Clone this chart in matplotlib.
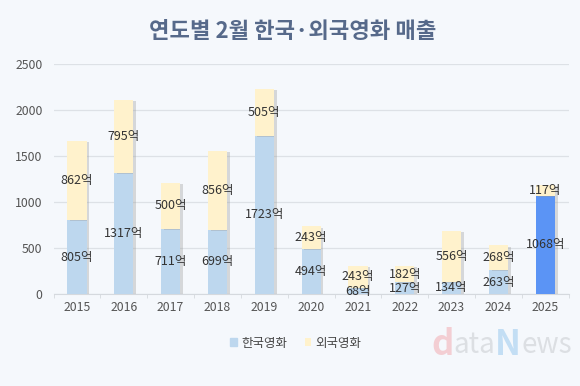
import numpy as np
import matplotlib.pyplot as plt
import matplotlib.patheffects as pe

plt.rcParams['font.family'] = ['Noto Sans CJK KR', 'DejaVu Sans']

# 데이터 (단위: 억원)
years = ["2015", "2016", "2017", "2018", "2019", "2020",
         "2021", "2022", "2023", "2024", "2025"]
korean = [805, 1317, 711, 699, 1723, 494, 68, 127, 134, 263, 1068]
foreign = [862, 795, 500, 856, 505, 243, 243, 182, 556, 268, 117]

bg = "#f5f8fc"
kor_color = "#bdd7ee"
kor_last = "#5b94f5"
for_color = "#fff2cc"

fig = plt.figure(figsize=(5.8, 3.86), dpi=100, facecolor=bg)
ax = fig.add_axes([0.0924, 0.238, 0.888, 0.596])
ax.set_facecolor(bg)

x = np.arange(len(years))
w = 0.41
shadow = [pe.SimplePatchShadow(offset=(2, -1), shadow_rgbFace="#9a9a9a", alpha=0.35), pe.Normal()]

kcolors = [kor_color] * (len(years) - 1) + [kor_last]
b1 = ax.bar(x, korean, width=w, color=kcolors, label="한국영화", zorder=3)
b2 = ax.bar(x, foreign, width=w, bottom=korean, color=for_color, label="외국영화", zorder=3)
for p in list(b1) + list(b2):
    p.set_path_effects(shadow)

for i in range(len(years)):
    ax.text(x[i], korean[i] / 2, f"{korean[i]}억", ha="center", va="center",
            fontsize=9, color="#333333", zorder=5)
    ax.text(x[i], korean[i] + foreign[i] / 2, f"{foreign[i]}억", ha="center", va="center",
            fontsize=9, color="#333333", zorder=5)

ax.set_xlim(-0.5, len(years) - 0.5)
ax.set_ylim(0, 2500)
ax.set_yticks([0, 500, 1000, 1500, 2000, 2500])
ax.set_xticks(x)
ax.set_xticklabels(years)
ax.set_xticks(np.arange(-0.5, len(years), 1), minor=True)
ax.tick_params(axis="x", which="major", length=0, labelsize=8.8, colors="#555555", pad=5)
ax.tick_params(axis="x", which="minor", length=3, color="#d5d9de")
ax.tick_params(axis="y", length=0, labelsize=8.8, colors="#555555", pad=8)
ax.grid(axis="y", color="#dde1e6", linewidth=0.9, zorder=0)
for s in ["top", "right", "left"]:
    ax.spines[s].set_visible(False)
ax.spines["bottom"].set_color("#d5d9de")

fig.text(0.505, 0.918, "연도별 2월 한국·외국영화 매출", ha="center", va="center",
         fontsize=16, fontweight="bold", color="#56698a")

leg = fig.legend(handles=[b1[0], b2[0]], labels=["한국영화", "외국영화"],
                 loc="center", bbox_to_anchor=(0.51, 0.111), ncol=2, frameon=False,
                 fontsize=9, handlelength=0.55, handleheight=0.55, handletextpad=0.3,
                 columnspacing=1.4, labelcolor="#444444")
leg.legend_handles[0].set_color(kor_color)
leg.legend_handles[0].set_path_effects([])
leg.legend_handles[1].set_path_effects([])

# 워터마크 (조각별로 이어붙임)
fig.canvas.draw()
renderer = fig.canvas.get_renderer()
xpos = 431
for part, col, size, wt in [("d", "#f2b8bd", 25, "bold"), ("ata", "#cfd2d6", 20, "normal"),
                            ("N", "#a9d0f0", 25, "bold"), ("ews", "#cfd2d6", 20, "normal")]:
    t = fig.text(xpos / 580, 0.107, part, fontsize=size, color=col, alpha=0.65,
                 va="center", ha="left", fontweight=wt)
    xpos += t.get_window_extent(renderer).width

plt.savefig("out.png", dpi=100, facecolor=bg)
